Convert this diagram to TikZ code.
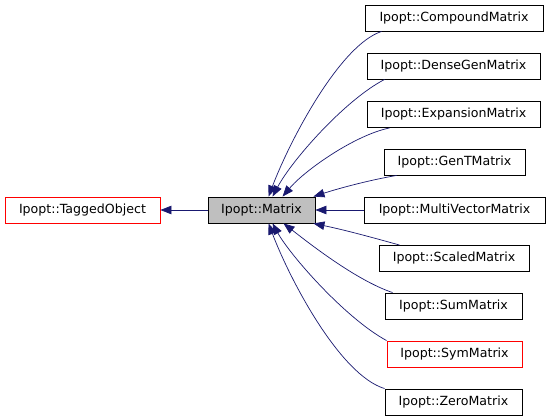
\documentclass[tikz,border=0pt]{standalone}
\usepackage{fontspec}
\setmainfont{DejaVu Sans}
\usetikzlibrary{arrows.meta}
\definecolor{edgeblue}{RGB}{25,25,112}
\definecolor{nodegray}{RGB}{191,191,191}
\definecolor{nodered}{RGB}{255,0,0}
\begin{document}
\begin{tikzpicture}[x=1pt,y=-1pt,
  box/.style={draw=black,line width=0.9pt,rectangle,inner sep=0pt,minimum height=26pt,
    font=\fontsize{12.6}{15}\selectfont,fill=white},
  redbox/.style={box,draw=nodered},
  grey/.style={box,fill=nodegray},
  edge/.style={draw=edgeblue,line width=0.7pt,-{Triangle[length=11pt,width=8.5pt]}}]
\useasboundingbox[fill=white] (0,0) rectangle (549,418);
\node[redbox,minimum width=155pt] (tagged) at (82.5,210) {Ipopt::TaggedObject};
\node[grey,minimum width=107pt] (matrix) at (261.5,210) {Ipopt::Matrix};
\node[box,minimum width=178pt] (compound) at (454,18) {Ipopt::CompoundMatrix};
\node[box,minimum width=173pt] (dense) at (453.5,66) {Ipopt::DenseGenMatrix};
\node[box,minimum width=173pt] (expansion) at (453.5,114.5) {Ipopt::ExpansionMatrix};
\node[box,minimum width=141pt] (gent) at (454.5,162) {Ipopt::GenTMatrix};
\node[box,minimum width=181pt] (multi) at (454.5,210) {Ipopt::MultiVectorMatrix};
\node[box,minimum width=150pt] (scaled) at (454,258.5) {Ipopt::ScaledMatrix};
\node[box,minimum width=137pt] (sum) at (453.5,306) {Ipopt::SumMatrix};
\node[redbox,minimum width=135pt] (sym) at (454.5,354) {Ipopt::SymMatrix};
\node[box,minimum width=137pt] (zero) at (453.5,402) {Ipopt::ZeroMatrix};
% edges
\draw[edge] (matrix.west) -- (tagged.east);
\draw[edge] ([xshift=17pt]compound.south west) .. controls (340,45) and (290,140) .. ([xshift=61pt]matrix.north west);
\draw[edge] ([xshift=18pt]dense.south west) .. controls (345,100) and (292,160) .. ([xshift=65pt]matrix.north west);
\draw[edge] ([xshift=23pt]expansion.south west) .. controls (355,135) and (305,170) .. ([xshift=75pt]matrix.north west);
\draw[edge] ([xshift=13pt]gent.south west) .. controls (370,180) and (340,188) .. ([xshift=-2pt]matrix.north east);
\draw[edge] (multi.west) -- (matrix.east);
\draw[edge] ([xshift=21pt]scaled.north west) .. controls (360,234) and (340,229) .. ([xshift=-2pt]matrix.south east);
\draw[edge] ([xshift=8pt]sum.north west) .. controls (355,280) and (305,240) .. ([xshift=76pt]matrix.south west);
\draw[edge] (sym.north west) .. controls (345,318) and (290,255) .. ([xshift=65pt]matrix.south west);
\draw[edge] (zero.north west) .. controls (340,375) and (290,280) .. ([xshift=61pt]matrix.south west);
\end{tikzpicture}
\end{document}
